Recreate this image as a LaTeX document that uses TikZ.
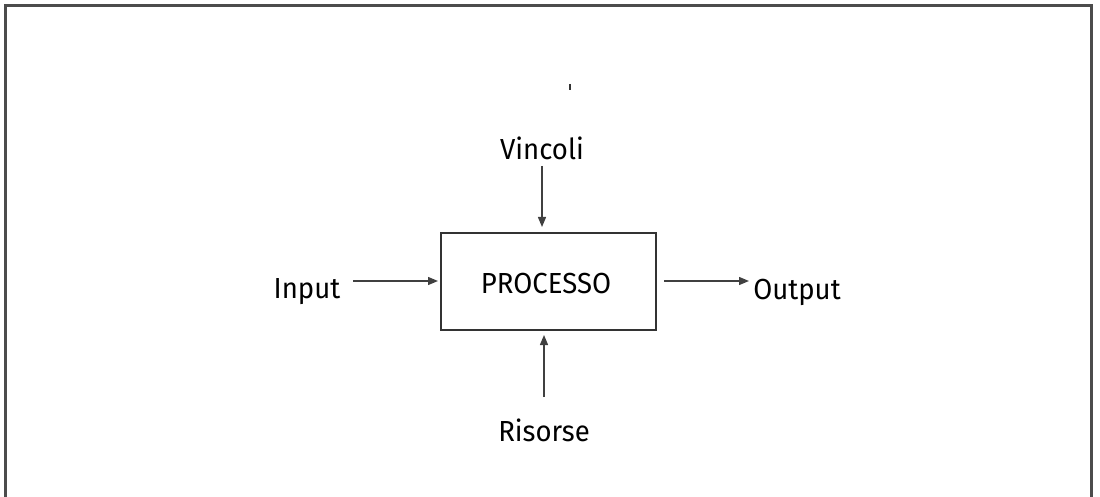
\documentclass[tikz,border=0pt]{standalone}
\usepackage{fontspec}
\setmainfont{Fira Sans}
\usetikzlibrary{arrows.meta}
\begin{document}
\begin{tikzpicture}[x=1pt,y=-1pt,
  lbl/.style={font=\fontsize{29}{32}\selectfont\addfontfeatures{FakeStretch=0.95}, inner sep=0pt, text=black},
  flow/.style={draw=black!75, line width=1.3pt, -{Triangle[length=10pt,width=8pt]}},
  procbox/.style={draw=black!80, line width=1.4pt, minimum width=215pt, minimum height=97pt, inner sep=0pt}]
\useasboundingbox (0,0) rectangle (1100,497);
\begin{scope}
\clip (0,0) rectangle (1100,497);
\draw[black!70, line width=3pt] (5.5,510) -- (5.5,5.5) -- (1091,5.5) -- (1091,510);
\end{scope}
\node[procbox] (proc) at (548.5,281.5) {};
\node[lbl] (proctext) at (546,284) {PROCESSO};
\node[lbl] (vinc) at (542,148) {Vincoli};
\node[lbl] (inp) at (307,292) {Input};
\node[lbl] (outp) at (797,292) {Output};
\node[lbl] (ris) at (544,430) {Risorse};
\coordinate (vtop) at (542,166);
\coordinate (vbot) at (542,227);
\coordinate (ibeg) at (353,281);
\coordinate (iend) at (438,281);
\coordinate (obeg) at (664,281);
\coordinate (oend) at (749,281);
\coordinate (rbot) at (544,397);
\coordinate (rtop) at (544,335);
\draw[flow] (vtop) -- (vbot);
\draw[flow] (ibeg) -- (iend);
\draw[flow] (obeg) -- (oend);
\draw[flow] (rbot) -- (rtop);
\draw[black!80, line width=2pt] (570,84) -- (570,90);
\end{tikzpicture}
\end{document}
